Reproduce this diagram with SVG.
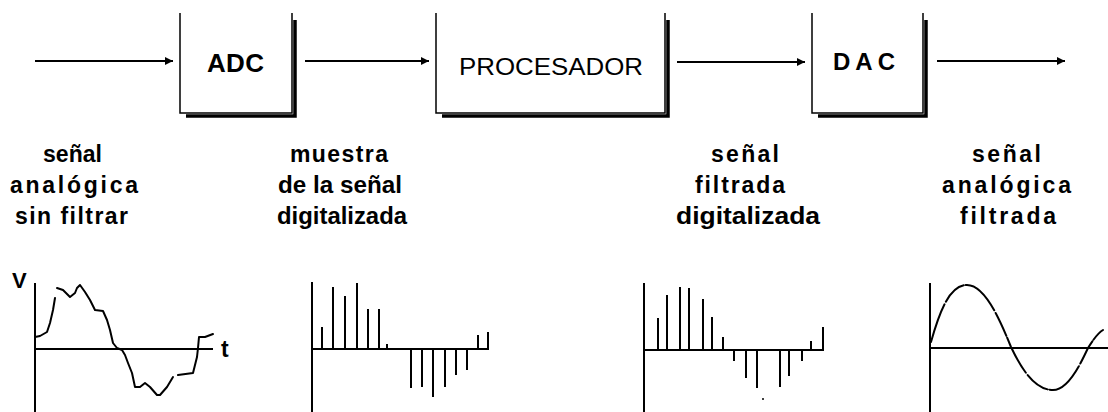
<svg xmlns="http://www.w3.org/2000/svg" width="1108" height="412" viewBox="0 0 1108 412">
  <style>
    .edge { fill: none; stroke: #000; stroke-width: 1.5; }
    .shadow { fill: none; stroke: #000; stroke-width: 3.5; }
    .conn { fill: none; stroke: #000; stroke-width: 1.8; }
    .axis { fill: none; stroke: #000; stroke-width: 2; }
    .wave { fill: none; stroke: #000; stroke-width: 2; stroke-linejoin: round; stroke-linecap: round; }
    .spike { fill: none; stroke: #000; stroke-width: 2; }
    .title { font-family: "Liberation Sans", Arial, sans-serif; fill: #000; }
    .lbl { font-family: "Liberation Sans", Arial, sans-serif; font-size: 23px; font-weight: bold; fill: #000; }
  </style>
  <defs>
    <marker id="arrow" viewBox="0 0 10 10" refX="10" refY="5" markerWidth="10" markerHeight="8" markerUnits="userSpaceOnUse" orient="auto">
      <path d="M0,0 L10,5 L0,10 Z" fill="#000"/>
    </marker>
  </defs>
  <rect width="1108" height="412" fill="#fff"/>

  <!-- processing blocks -->
  <g id="adc">
    <path class="edge" d="M180,13 V113 H292 V13"/>
    <path class="shadow" d="M186,116 H295 V20"/>
    <text class="title" x="207" y="72" font-size="26" font-weight="bold" textLength="57" lengthAdjust="spacing">ADC</text>
  </g>
  <g id="procesador">
    <path class="edge" d="M436,13 V113 H665 V13"/>
    <path class="shadow" d="M442,116 H668 V20"/>
    <text class="title" x="459" y="75" font-size="24" textLength="184" lengthAdjust="spacingAndGlyphs">PROCESADOR</text>
  </g>
  <g id="dac">
    <path class="edge" d="M812,13 V113 H923 V13"/>
    <path class="shadow" d="M818,116 H926 V20"/>
    <text class="title" x="833" y="70" font-size="24" font-weight="bold" textLength="62" lengthAdjust="spacing">DAC</text>
  </g>

  <!-- connectors -->
  <g id="connectors">
    <line class="conn" x1="35" y1="61" x2="173" y2="61" marker-end="url(#arrow)"/>
    <line class="conn" x1="305" y1="61" x2="429" y2="61" marker-end="url(#arrow)"/>
    <line class="conn" x1="677" y1="62" x2="805" y2="62" marker-end="url(#arrow)"/>
    <line class="conn" x1="937" y1="61" x2="1065" y2="61" marker-end="url(#arrow)"/>
  </g>

  <!-- signal descriptions -->
  <g id="labels">
    <text class="lbl" x="43" y="162" textLength="59" lengthAdjust="spacing">señal</text>
    <text class="lbl" x="10" y="193" textLength="128" lengthAdjust="spacing">analógica</text>
    <text class="lbl" x="15" y="224" textLength="113" lengthAdjust="spacing">sin filtrar</text>

    <text class="lbl" x="290" y="162" textLength="98" lengthAdjust="spacing">muestra</text>
    <text class="lbl" x="278" y="193" textLength="124" lengthAdjust="spacingAndGlyphs">de la señal</text>
    <text class="lbl" x="277" y="224" textLength="130" lengthAdjust="spacingAndGlyphs">digitalizada</text>

    <text class="lbl" x="711" y="162" textLength="68" lengthAdjust="spacing">señal</text>
    <text class="lbl" x="695" y="193" textLength="90" lengthAdjust="spacing">filtrada</text>
    <text class="lbl" x="676" y="224" textLength="144" lengthAdjust="spacingAndGlyphs">digitalizada</text>

    <text class="lbl" x="972" y="162" textLength="69" lengthAdjust="spacing">señal</text>
    <text class="lbl" x="942" y="193" textLength="129" lengthAdjust="spacing">analógica</text>
    <text class="lbl" x="960" y="224" textLength="96" lengthAdjust="spacing">filtrada</text>
  </g>

  <!-- plot 1: raw analogue signal -->
  <g id="plot-analog-raw">
    <path class="axis" d="M35,283 V412 M35,349 H213"/>
    <text class="title" x="12" y="288" font-size="22" font-weight="bold">V</text>
    <text class="title" x="221" y="357" font-size="23" font-weight="bold">t</text>
    <path class="wave" d="M35,337 L40,336 L47,332 L50,323 L53,310 L55,298"/>
    <path class="wave" d="M57,288 L63,290 L70,297 L75,293 L77,288 L80,285 L85,292 L90,300 L95,310 L103,311 L107,320 L110,330 L113,343 L117,348 L122,350 L125,355 L128,363 L132,373 L135,387 L140,387 L145,383 L150,387 L157,395 L160,395 L167,387 L173,377"/>
    <path class="wave" d="M178,375 L193,373 L197,357 L198,348 L199,337 L205,337 L213,334"/>
  </g>

  <!-- plot 2: sampled signal -->
  <g id="plot-sampled">
    <path class="axis" d="M312,282 V412 M312,349 H488 V332"/>
    <path class="spike" d="M322,349 V327 M333,349 V287 M345,349 V296 M357,349 V283 M368,349 V309 M379,349 V309 M387,349 V344 M411,349 V388 M422,349 V387 M433,349 V397 M445,349 V387 M456,349 V375 M467,349 V370 M478,349 V335"/>
  </g>

  <!-- plot 3: filtered digital signal -->
  <g id="plot-filtered-digital">
    <path class="axis" d="M644,283 V412 M644,350 H823 V327"/>
    <path class="spike" d="M658,350 V318 M667,350 V295 M680,350 V287 M689,350 V288 M703,350 V299 M712,350 V317 M723,350 V337 M734,350 V361 M746,350 V378 M757,350 V388 M780,350 V387 M789,350 V376 M802,350 V361 M811,350 V341"/>
    <circle cx="763" cy="399" r="1" fill="#000"/>
  </g>

  <!-- plot 4: filtered analogue signal -->
  <g id="plot-analog-filtered">
    <path class="axis" d="M930,283 V412 M930,348 H1108"/>
    <path class="wave" stroke-dasharray="40 3 25 2" d="M931,342 C940,310 950,285 967,285 C985,285 1000,320 1011,347 C1022,370 1035,390 1053,390 C1068,390 1080,365 1088,348 C1093,340 1098,333 1103,330"/>
  </g>
</svg>
